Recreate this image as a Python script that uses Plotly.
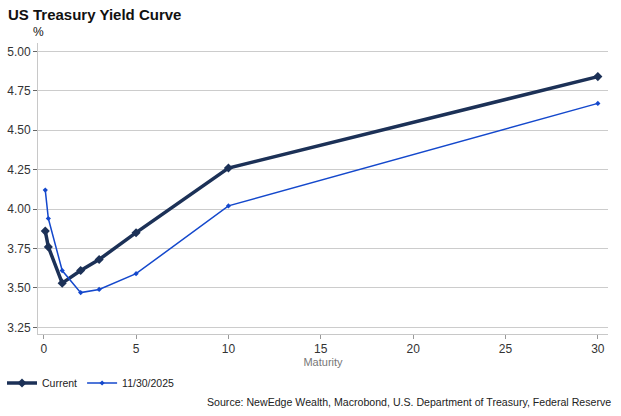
import plotly.graph_objects as go

maturity = [1/12, 0.25, 1, 2, 3, 5, 10, 30]
current = [3.86, 3.76, 3.53, 3.61, 3.68, 3.85, 4.26, 4.84]
prior = [4.12, 3.94, 3.61, 3.47, 3.49, 3.59, 4.02, 4.67]
y_ticks = [3.25, 3.50, 3.75, 4.00, 4.25, 4.50, 4.75, 5.00]
x_ticks = [0, 5, 10, 15, 20, 25, 30]

FONT = "Liberation Sans, Arial, sans-serif"

fig = go.Figure()
fig.add_trace(go.Scatter(
    x=maturity, y=current, name="Current", mode="lines+markers",
    line=dict(color="#1c3157", width=3.5),
    marker=dict(symbol="diamond", size=7, color="#1c3157"),
))
fig.add_trace(go.Scatter(
    x=maturity, y=prior, name="11/30/2025", mode="lines+markers",
    line=dict(color="#1448cc", width=1.5),
    marker=dict(symbol="diamond", size=4, color="#1448cc"),
))

pl, pr, pt, pb = 38, 608, 43, 334
def px_to_paper(x, y):
    return (x - pl) / (pr - pl), (pb - y) / (pb - pt)

ax, ay = px_to_paper(38, 32)
sx, sy = px_to_paper(613, 402)

fig.update_layout(
    width=621, height=416,
    margin=dict(l=pl, r=621 - pr, t=pt, b=416 - pb, autoexpand=False),
    paper_bgcolor="white", plot_bgcolor="white",
    font=dict(family=FONT, size=12, color="#333333"),
    title=dict(text="<b>US Treasury Yield Curve</b>", x=8/621, xref="container",
               xanchor="left", y=1-15/416, yref="container", yanchor="middle",
               font=dict(size=15, color="#111111", family=FONT)),
    showlegend=True,
    legend=dict(orientation="h", x=2/621, xref="container", xanchor="left",
                y=1-383/416, yref="container", yanchor="middle",
                font=dict(size=10.5, color="#222222"), itemwidth=30,
                tracegroupgap=0, bgcolor="rgba(0,0,0,0)"),
    xaxis=dict(range=[-0.31, 30.55], tickvals=x_ticks, showgrid=False,
               zeroline=False, showline=True, linecolor="#c8c8c8", linewidth=1,
               ticks="outside", ticklen=4, tickcolor="#999999", automargin=False,
               tickfont=dict(size=12, color="#333333"),
               title=dict(text="Maturity", font=dict(size=11, color="#777777"), standoff=6)),
    yaxis=dict(range=[3.2075, 5.053], tickvals=y_ticks, tickformat=".2f",
               showgrid=True, gridcolor="#cccccc", gridwidth=1, zeroline=False,
               showline=True, linecolor="#c8c8c8", linewidth=1, automargin=False,
               ticks="outside", ticklen=4, tickcolor="#666666",
               tickfont=dict(size=12, color="#333333")),
    annotations=[
        dict(text="%", x=ax, xref="paper", y=ay, yref="paper",
             xanchor="center", yanchor="middle", showarrow=False,
             font=dict(size=12, color="#111111")),
        dict(text="Source: NewEdge Wealth, Macrobond, U.S. Department of Treasury, Federal Reserve",
             x=sx, xref="paper", y=sy, yref="paper",
             xanchor="right", yanchor="middle", showarrow=False,
             font=dict(size=10.6, color="#222222")),
    ],
)

fig.write_html("out.html", config={"displayModeBar": False},
               post_script="document.body.style.margin='0';")
